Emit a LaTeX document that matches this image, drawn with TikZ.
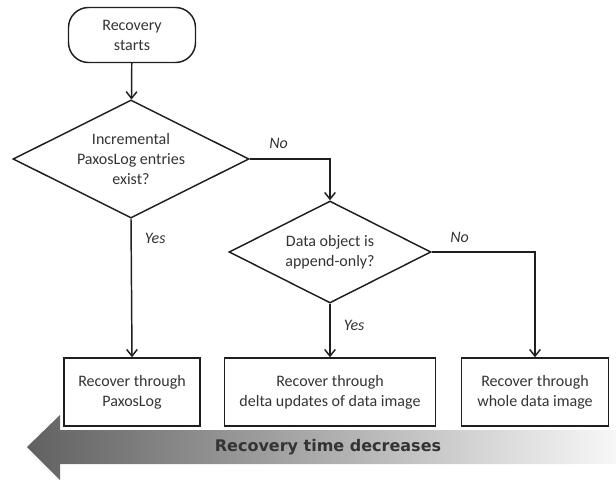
\documentclass[tikz,border=0pt]{standalone}
\usepackage{fontspec}
\setmainfont{Carlito}
\newfontfamily\bandfont{DejaVu Sans}
\usetikzlibrary{shapes.geometric,arrows.meta}

\begin{document}
\begin{tikzpicture}[x=0.75pt,y=-0.75pt,
        every node/.style={font=\fontsize{12}{15}\selectfont,text=black!80},
        line/.style={line width=1.1pt,draw=black!88},
        flow/.style={line,-{Straight Barb[length=5pt,width=8pt]}},
        term/.style={line,rectangle,rounded corners=15pt,align=center,
          minimum width=95.25pt,minimum height=41.25pt},
        decision/.style={line,diamond,aspect=2,inner sep=0pt,align=center},
        outcome/.style={line,rectangle,align=center,minimum height=51pt},
        lab/.style={font=\fontsize{12}{15}\selectfont\itshape}]
        \useasboundingbox (0,0) rectangle (616,481);
        % time arrow
        \shade[left color=black!62,right color=black!3]
          (616,430) -- (60,430) -- (60,415) -- (27,447) -- (60,480)
          -- (60,464) -- (616,464) -- cycle;
        \node[font=\bandfont\bfseries\fontsize{12}{14}\selectfont,text=black!80]
          (band) at (328,447) {Recovery time decreases};
        % flow chart
        \node[term] (start) at (132,35) {Recovery\\starts};
        \node[decision,minimum width=177pt,minimum height=88.5pt] (d1) at (131,159)
          {Incremental\\PaxosLog entries\\exist?};
        \node[decision,minimum width=151.5pt,minimum height=76.5pt] (d2) at (330,252)
          {Data object is\\append-only?};
        \node[outcome,minimum width=102pt] (b1) at (132,392)
          {Recover through\\PaxosLog};
        \node[outcome,minimum width=158.25pt] (b2) at (330,392)
          {Recover through\\delta updates of data image};
        \node[outcome,minimum width=110.25pt] (b3) at (535,392)
          {Recover through\\whole data image};
        \draw[flow] (start) -- (d1);
        \draw[flow] (d1.east) -| node[lab,pos=0.18,above,yshift=4pt] {No} (d2.north);
        \draw[flow] (d1.south) -- node[lab,pos=0.14,right,xshift=6.5pt] {Yes} (b1.north);
        \draw[flow] (d2.east) -| node[lab,pos=0.135,above,yshift=3pt] {No} (b3.north);
        \draw[flow] (d2.south) -- node[lab,pos=0.4,right,xshift=6.5pt] {Yes} (b2.north);
      \end{tikzpicture}
\end{document}
